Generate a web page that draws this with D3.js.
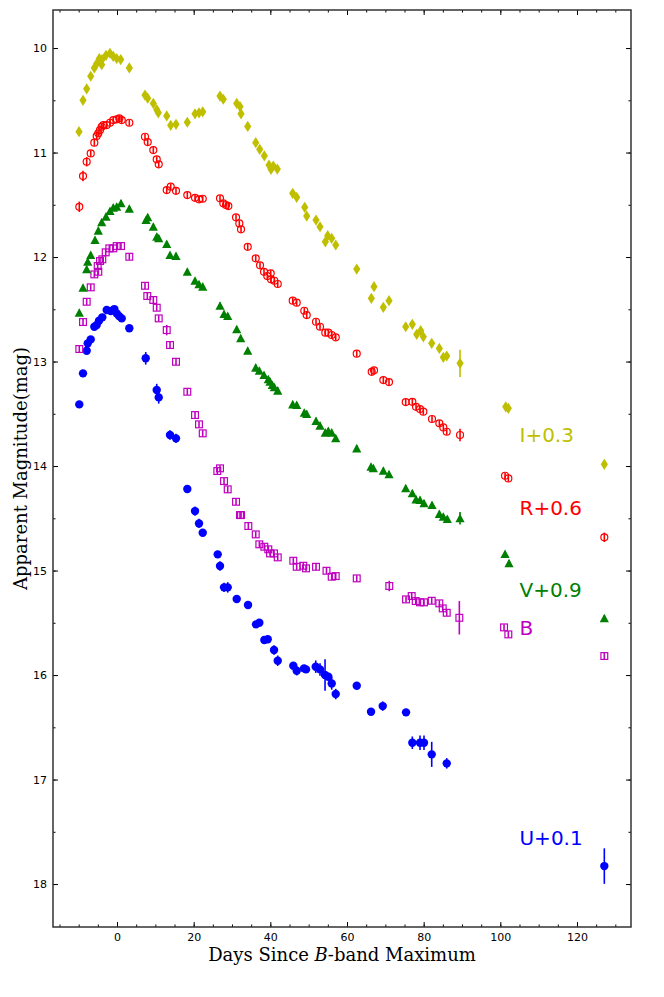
<!DOCTYPE html>
<html>
<head>
<meta charset="utf-8">
<script src="https://cdn.jsdelivr.net/npm/d3@7"></script>
<style>
body { margin: 0; background: #fff; }
</style>
</head>
<body>
<svg id="chart"></svg>
<script>
// light curve points (days since B max, apparent mag incl. offsets)
let I_days = [-9.91,-8.87,-7.91,-6.86,-5.92,-5.30,-4.62,-3.99,-3.91,-2.87,-1.83,-0.97,-0.08,0.97,3.21,7.30,8.01,9.47,10.36,10.77,12.97,14.01,15.39,18.34,20.35,21.39,22.36,26.87,27.73,31.23,32.09,32.35,34.10,36.19,37.23,38.43,39.66,40.18,40.78,41.82,45.84,46.88,48.97,49.49,51.92,52.96,54.34,54.97,56.01,57.06,62.54,66.35,67.05,69.48,70.96,75.32,77.04,78.19,79.23,79.91,82.10,84.09,85.13,86.02,89.49,101.41,102.09,127.13];
let I_mags = [10.80,10.50,10.39,10.27,10.19,10.15,10.10,10.16,10.11,10.07,10.05,10.08,10.10,10.11,10.19,10.45,10.48,10.53,10.59,10.62,10.65,10.74,10.73,10.71,10.63,10.62,10.61,10.46,10.49,10.53,10.56,10.63,10.75,10.906,10.969,11.031,11.120,11.161,11.129,11.158,11.390,11.429,11.524,11.608,11.646,11.710,11.854,11.796,11.821,11.885,12.115,12.395,12.284,12.481,12.418,12.667,12.644,12.740,12.705,12.763,12.826,12.874,12.960,12.947,13.017,13.433,13.448,13.984];
let I_bigErr = [[89.49,0.13]];

let R_days = [-9.84,-8.87,-7.91,-6.86,-5.92,-5.30,-4.88,-4.44,-3.99,-3.57,-2.69,-1.83,-0.97,-0.08,0.60,1.23,3.21,7.30,8.01,9.47,10.36,10.88,12.97,14.01,15.39,18.34,20.35,21.39,22.36,26.87,27.73,28.44,29.04,31.05,31.91,32.35,34.10,36.19,37.31,38.35,39.21,40.10,40.18,41.04,41.93,45.84,46.88,48.86,49.49,51.92,52.96,54.34,55.13,56.01,57.06,62.54,66.45,67.05,69.48,70.96,75.32,77.04,78.01,79.05,79.91,82.18,84.09,85.13,86.02,89.49,101.23,102.09,127.13];
let R_mags = [11.519,11.225,11.088,11.008,10.906,10.842,10.816,10.785,10.753,10.737,10.737,10.715,10.689,10.682,10.673,10.689,10.715,10.849,10.900,10.976,11.065,11.113,11.359,11.327,11.366,11.407,11.433,11.448,11.442,11.438,11.486,11.502,11.512,11.620,11.678,11.735,11.902,12.012,12.079,12.141,12.182,12.156,12.213,12.227,12.258,12.418,12.437,12.514,12.555,12.619,12.667,12.724,12.724,12.746,12.768,12.925,13.098,13.084,13.177,13.196,13.388,13.385,13.433,13.455,13.480,13.550,13.591,13.630,13.672,13.703,14.093,14.118,14.682];
let R_bigErr = [[-9.84,0.05],[-8.87,0.05],[-7.91,0.045],[89.49,0.06],[127.13,0.045]];

let V_days = [-9.84,-8.87,-7.91,-7.64,-6.86,-5.74,-4.88,-3.99,-2.87,-1.83,-0.97,-0.08,1.04,3.21,7.57,8.01,9.47,10.36,10.88,12.97,13.83,15.39,18.34,20.35,21.39,22.36,26.87,27.92,28.88,31.23,32.27,34.10,36.19,37.13,38.35,39.47,39.92,40.52,41.04,41.93,45.84,46.88,48.86,49.49,51.92,52.96,54.34,55.13,56.01,57.06,62.54,66.27,66.87,69.48,70.96,75.32,77.04,78.01,79.05,80.09,82.18,84.09,85.13,86.17,89.49,101.23,102.27,127.13];
let V_mags = [12.533,12.294,12.118,12.045,11.981,11.837,11.748,11.668,11.614,11.560,11.528,11.519,11.486,11.538,11.646,11.620,11.710,11.806,11.821,11.876,11.981,11.990,12.141,12.227,12.261,12.284,12.466,12.545,12.565,12.692,12.778,12.897,13.059,13.088,13.129,13.170,13.193,13.225,13.247,13.279,13.410,13.416,13.490,13.502,13.569,13.614,13.681,13.665,13.681,13.735,13.831,14.007,14.022,14.045,14.079,14.213,14.261,14.319,14.325,14.357,14.373,14.459,14.485,14.507,14.500,14.842,14.931,15.457];
let V_bigErr = [[89.49,0.06]];

let B_days = [-9.84,-8.87,-7.91,-6.86,-5.92,-5.04,-4.88,-4.44,-3.84,-2.95,-2.01,-0.97,-0.08,1.04,3.21,7.30,7.90,9.47,10.36,10.88,12.97,13.83,15.39,18.34,20.35,21.39,22.36,26.17,26.87,27.92,28.88,31.05,32.09,32.35,34.26,36.19,37.13,38.43,39.47,39.92,40.96,41.93,45.99,46.88,48.60,49.31,51.92,54.65,56.01,57.06,62.54,71.04,75.40,76.88,77.93,79.05,80.09,82.10,84.09,84.97,86.02,89.31,100.97,102.09,127.13];
let B_mags = [12.880,12.622,12.428,12.290,12.166,12.086,12.141,12.038,12.022,11.955,11.917,11.917,11.895,11.895,11.997,12.275,12.373,12.411,12.485,12.587,12.699,12.842,13.002,13.289,13.512,13.601,13.687,14.048,14.022,14.144,14.223,14.342,14.469,14.469,14.574,14.654,14.749,14.772,14.797,14.836,14.836,14.874,14.906,14.964,14.954,14.979,14.964,15.002,15.059,15.053,15.075,15.148,15.276,15.244,15.292,15.304,15.304,15.289,15.314,15.362,15.404,15.452,15.544,15.611,15.818];
let B_bigErr = [[12.97,0.05],[71.04,0.05],[89.31,0.16]];

let U_days = [-9.84,-8.87,-7.91,-7.64,-6.86,-5.92,-5.30,-4.70,-3.84,-2.69,-1.64,-0.70,-0.08,0.52,1.23,3.21,7.49,10.36,10.88,13.83,15.39,18.34,20.35,21.39,22.36,26.27,26.87,27.92,28.88,31.23,34.18,36.26,37.13,38.43,39.32,40.96,41.93,45.99,46.88,48.79,49.31,51.84,52.96,54.27,55.13,56.01,57.06,62.54,66.27,69.32,75.40,77.04,79.05,80.09,82.10,86.02,127.13];
let U_mags = [13.410,13.113,12.897,12.826,12.788,12.667,12.651,12.610,12.577,12.507,12.517,12.498,12.539,12.565,12.587,12.682,12.969,13.273,13.343,13.703,13.735,14.220,14.431,14.549,14.638,14.845,14.957,15.161,15.161,15.273,15.330,15.515,15.499,15.665,15.658,15.761,15.863,15.911,15.959,15.936,15.946,15.920,15.946,16.000,16.016,16.080,16.182,16.102,16.351,16.297,16.357,16.648,16.648,16.648,16.759,16.845,17.828];
let U_bigErr = [[7.49,0.06],[10.36,0.06],[10.88,0.06],[13.83,0.045],[15.39,0.045],[20.35,0.045],[21.39,0.045],[26.87,0.045],[27.92,0.045],[28.88,0.05],[40.96,0.045],[41.93,0.05],[46.88,0.045],[51.84,0.06],[52.96,0.06],[54.27,0.15],[56.01,0.06],[57.06,0.05],[69.32,0.045],[77.04,0.06],[79.05,0.07],[80.09,0.07],[82.10,0.12],[86.02,0.05],[127.13,0.17]];

let defaultErr = 0.03;

let bandNames  = ["U+0.1", "B", "V+0.9", "R+0.6", "I+0.3"];
let labelMags  = [17.57, 15.56, 15.20, 14.42, 13.72];
let labelDay   = 105;

let xTicks = [0, 20, 40, 60, 80, 100, 120];
let yTicks = [10, 11, 12, 13, 14, 15, 16, 17, 18];

var W = 664, H = 997;
var padL = 53, padR = 631, padT = 10, padB = 927;

var svg = d3.select("#chart").attr("width", W).attr("height", H);

var x = d3.scaleLinear().domain([-16.70, 134.09]).range([padL, padR]);
var y = d3.scaleLinear().domain([9.636, 18.411]).range([padT, padB]);

function pts(days, mags, big) {
  return days.map(function (d, i) {
    var e = defaultErr;
    big.forEach(function (b) { if (b[0] == d) e = b[1]; });
    return { d: d, m: mags[i], e: e };
  });
}

var bands = [
  { name: "U", color: "#0000ff", data: pts(U_days, U_mags, U_bigErr), shape: "dot" },
  { name: "B", color: "#bf00bf", data: pts(B_days, B_mags, B_bigErr), shape: "square" },
  { name: "V", color: "#008000", data: pts(V_days, V_mags, V_bigErr), shape: "tri" },
  { name: "R", color: "#ff0000", data: pts(R_days, R_mags, R_bigErr), shape: "ring" },
  { name: "I", color: "#bfbf00", data: pts(I_days, I_mags, I_bigErr), shape: "diamond" }
];

var plot = svg.append("g");

bands.forEach(function (b) {
  var g = plot.append("g").attr("class", "band-" + b.name);

  // error bars
  g.selectAll("line.err")
    .data(b.data)
    .enter()
    .append("line")
    .attr("class", "err")
    .attr("x1", function (p) { return x(p.d); })
    .attr("x2", function (p) { return x(p.d); })
    .attr("y1", function (p) { return y(p.m - p.e); })
    .attr("y2", function (p) { return y(p.m + p.e); })
    .attr("stroke", b.color)
    .attr("stroke-width", 1.6);

  var mk = g.selectAll(".mk")
    .data(b.data)
    .enter();

  if (b.shape == "dot") {
    mk.append("circle").attr("class", "mk")
      .attr("cx", function (p) { return x(p.d); })
      .attr("cy", function (p) { return y(p.m); })
      .attr("r", 4.2)
      .attr("fill", b.color);
  } else if (b.shape == "ring") {
    mk.append("circle").attr("class", "mk")
      .attr("cx", function (p) { return x(p.d); })
      .attr("cy", function (p) { return y(p.m); })
      .attr("r", 3.5)
      .attr("fill", "none")
      .attr("stroke", b.color)
      .attr("stroke-width", 1.2);
  } else if (b.shape == "square") {
    mk.append("rect").attr("class", "mk")
      .attr("x", function (p) { return x(p.d) - 3.4; })
      .attr("y", function (p) { return y(p.m) - 3.4; })
      .attr("width", 6.8)
      .attr("height", 6.8)
      .attr("fill", "none")
      .attr("stroke", b.color)
      .attr("stroke-width", 1.2);
  } else if (b.shape == "tri") {
    mk.append("path").attr("class", "mk")
      .attr("d", "M0,-4.6L4.6,4.0L-4.6,4.0Z")
      .attr("transform", function (p) { return "translate(" + x(p.d) + "," + y(p.m) + ")"; })
      .attr("fill", b.color);
  } else {
    mk.append("path").attr("class", "mk")
      .attr("d", "M0,-5.6L3.6,0L0,5.6L-3.6,0Z")
      .attr("transform", function (p) { return "translate(" + x(p.d) + "," + y(p.m) + ")"; })
      .attr("fill", b.color);
  }
});

// band labels
svg.selectAll("text.band")
  .data(bandNames)
  .enter()
  .append("text")
  .attr("class", "band")
  .attr("x", x(labelDay))
  .attr("y", function (d, i) { return y(labelMags[i]); })
  .attr("dominant-baseline", "middle")
  .attr("font-family", "DejaVu Sans")
  .attr("font-size", 20)
  .attr("fill", function (d, i) { return bands[i].color; })
  .text(function (d) { return d; });

// axes with inward ticks on all four sides
var xMinor = d3.range(-15, 134, 5);
var yMinor = d3.range(10, 18.5, 0.5);

function styleAxis(g) {
  g.select(".domain").remove();
  g.selectAll(".tick line").attr("stroke", "#000").attr("stroke-width", 1);
  g.selectAll(".tick text").attr("font-family", "DejaVu Sans").attr("font-size", 11).attr("fill", "#000");
}

svg.append("g").attr("transform", "translate(0," + padB + ")")
  .call(d3.axisBottom(x).tickValues(xMinor).tickSize(-2.5).tickFormat(""))
  .call(styleAxis);
svg.append("g").attr("transform", "translate(0," + padB + ")")
  .call(d3.axisBottom(x).tickValues(xTicks).tickSize(-5).tickPadding(6).tickFormat(d3.format("d")))
  .call(styleAxis);
svg.append("g").attr("transform", "translate(0," + padT + ")")
  .call(d3.axisTop(x).tickValues(xMinor).tickSize(-2.5).tickFormat(""))
  .call(styleAxis);
svg.append("g").attr("transform", "translate(0," + padT + ")")
  .call(d3.axisTop(x).tickValues(xTicks).tickSize(-5).tickFormat(""))
  .call(styleAxis);

svg.append("g").attr("transform", "translate(" + padL + ",0)")
  .call(d3.axisLeft(y).tickValues(yMinor).tickSize(-2.5).tickFormat(""))
  .call(styleAxis);
svg.append("g").attr("transform", "translate(" + padL + ",0)")
  .call(d3.axisLeft(y).tickValues(yTicks).tickSize(-5).tickPadding(6).tickFormat(d3.format("d")))
  .call(styleAxis);
svg.append("g").attr("transform", "translate(" + padR + ",0)")
  .call(d3.axisRight(y).tickValues(yMinor).tickSize(-2.5).tickFormat(""))
  .call(styleAxis);
svg.append("g").attr("transform", "translate(" + padR + ",0)")
  .call(d3.axisRight(y).tickValues(yTicks).tickSize(-5).tickFormat(""))
  .call(styleAxis);

// frame
svg.append("rect")
  .attr("x", padL).attr("y", padT)
  .attr("width", padR - padL).attr("height", padB - padT)
  .attr("fill", "none")
  .attr("stroke", "#333")
  .attr("stroke-width", 1.5);

// axis titles
var xl = svg.append("text")
  .attr("x", (padL + padR) / 2)
  .attr("y", 961)
  .attr("text-anchor", "middle")
  .attr("font-family", "DejaVu Serif")
  .attr("font-size", 18)
  .attr("fill", "#000");
xl.append("tspan").text("Days Since ");
xl.append("tspan").attr("font-style", "italic").text("B");
xl.append("tspan").text("-band Maximum");

svg.append("text")
  .attr("transform", "translate(27," + (padT + padB) / 2 + ") rotate(-90)")
  .attr("text-anchor", "middle")
  .attr("font-family", "DejaVu Serif")
  .attr("font-size", 18)
  .attr("fill", "#000")
  .text("Apparent Magnitude(mag)");
</script>
</body>
</html>
